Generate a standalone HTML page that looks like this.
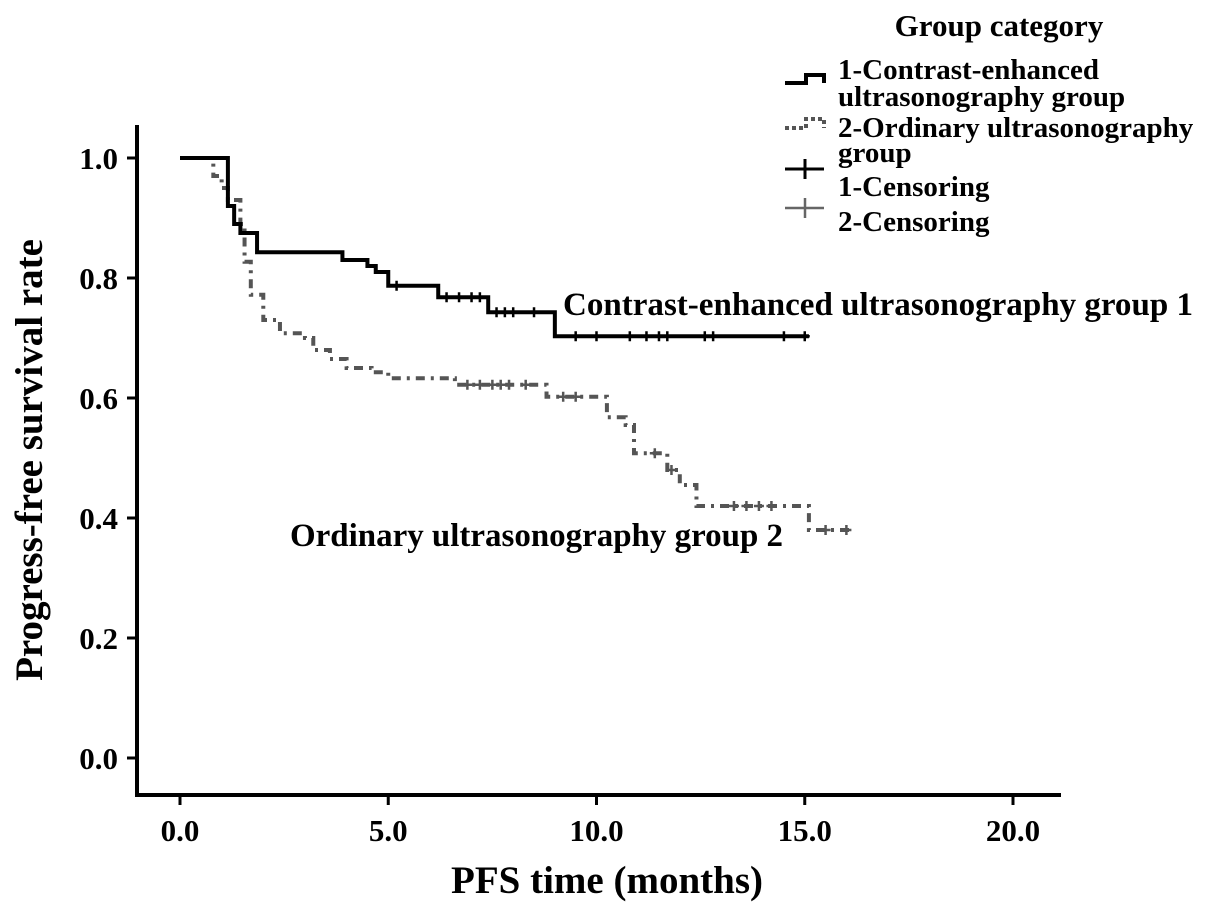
<!DOCTYPE html>
<html><head><meta charset="utf-8"><style>
html,body{margin:0;padding:0;background:#fff;}
svg{display:block;font-family:"Liberation Serif",serif;font-weight:bold;}
</style></head><body>
<svg id="chart" width="1205" height="911" viewBox="0 0 1205 911">
<g id="axes"></g>
<g id="series"></g>
<text x="563" y="315" font-size="32.5" textLength="630" lengthAdjust="spacingAndGlyphs">Contrast-enhanced ultrasonography group 1</text>
<text x="290" y="546" font-size="32.5" textLength="493" lengthAdjust="spacingAndGlyphs">Ordinary ultrasonography group 2</text>
<text x="607" y="893" font-size="39" text-anchor="middle">PFS time (months)</text>
<text transform="translate(42,460) rotate(-90)" font-size="39" text-anchor="middle">Progress-free survival rate</text>
<g font-size="29">
<text x="999" y="36" font-size="31" text-anchor="middle">Group category</text>
<path d="M785,83 H806 V75 H824 V83" fill="none" stroke="#000" stroke-width="4"/>
<text x="838" y="79">1-Contrast-enhanced</text>
<text x="838" y="106">ultrasonography group</text>
<path d="M785,128 H806 V119 H824 V128" fill="none" stroke="#555" stroke-width="4" stroke-dasharray="4,3"/>
<text x="838" y="137">2-Ordinary ultrasonography</text>
<text x="838" y="162">group</text>
<path d="M785,169 H824 M805,159 V179" stroke="#000" stroke-width="3"/>
<text x="838" y="196">1-Censoring</text>
<path d="M785,208 H824 M805,198 V218" stroke="#666" stroke-width="2.5"/>
<text x="838" y="231">2-Censoring</text>
</g>
</svg>
<script>
const xTicks=[0,5,10,15,20];
const xTickLabels=["0.0","5.0","10.0","15.0","20.0"];
const yTicks=[0,0.2,0.4,0.6,0.8,1.0];
const yTickLabels=["0.0","0.2","0.4","0.6","0.8","1.0"];
const g1Times=[0,1.15,1.3,1.45,1.85,3.9,4.5,4.7,5.0,6.2,7.4,9.0,15.1];
const g1Surv=[1.0,0.92,0.89,0.875,0.843,0.83,0.82,0.81,0.787,0.768,0.743,0.703,0.703];
const g1Censor=[5.2,6.4,6.7,7.0,7.2,7.6,7.8,8.0,8.5,9.5,10.0,10.8,11.2,11.5,11.7,12.6,12.8,14.5,15.0];
const g2Times=[0,0.8,1.0,1.15,1.45,1.55,1.7,2.0,2.4,3.0,3.2,3.6,4.0,4.6,5.0,6.6,8.8,10.25,10.7,10.9,11.7,12.0,12.4,15.1,16.1];
const g2Surv=[1.0,0.97,0.95,0.93,0.89,0.827,0.772,0.73,0.708,0.70,0.68,0.665,0.65,0.643,0.633,0.622,0.602,0.568,0.555,0.508,0.48,0.455,0.42,0.38,0.38];
const g2Censor=[6.9,7.2,7.5,7.7,7.9,8.3,9.2,9.5,11.4,11.8,13.3,13.6,13.9,14.2,15.5,16.0];
const NS="http://www.w3.org/2000/svg";
const X=t=>180+t*41.65;
const Y=s=>758-s*600;
function mk(tag,attrs,parent){const e=document.createElementNS(NS,tag);for(const k in attrs)e.setAttribute(k,attrs[k]);parent.appendChild(e);return e;}
const axes=document.getElementById('axes');
let e=mk('line',{x1:137,y1:125,x2:137,y2:797,stroke:'#000','stroke-width':4},axes);


e=mk('line',{x1:135,y1:795,x2:1061,y2:795,stroke:'#000','stroke-width':4},axes);


xTicks.forEach((t,i)=>{
  const l=mk('line',{x1:X(t),y1:795,x2:X(t),y2:805,stroke:'#000','stroke-width':3},axes);
  
  
  const tx=mk('text',{x:X(t),y:841,'font-size':31,'text-anchor':'middle'},axes);
  tx.textContent=xTickLabels[i];
  
  
});
yTicks.forEach((s,i)=>{
  const l=mk('line',{x1:127,y1:Y(s),x2:137,y2:Y(s),stroke:'#000','stroke-width':3},axes);
  
  
  const tx=mk('text',{x:118,y:Y(s)+11,'font-size':31,'text-anchor':'end'},axes);
  tx.textContent=yTickLabels[i];
  
  
});
const ser=document.getElementById('series');
function stepAt(times,surv,t){let s=surv[0];for(let i=0;i<times.length;i++){if(times[i]<=t)s=surv[i];}return s;}
function drawSeries(times,surv,censor,color,w,dash,name){
  let d='M'+X(times[0])+','+Y(surv[0]);
  for(let i=1;i<times.length;i++){d+=' H'+X(times[i])+' V'+Y(surv[i]);}
  const p=mk('path',{d:d,fill:'none',stroke:color,'stroke-width':w},ser);
  if(dash)p.setAttribute('stroke-dasharray',dash);
  
  
  censor.forEach(t=>{
    const y=Y(stepAt(times,surv,t));
    const c=mk('path',{d:'M'+(X(t)-5)+','+y+' H'+(X(t)+5)+' M'+X(t)+','+(y-5)+' V'+(y+5),stroke:color,'stroke-width':2.5},ser);
    
    
  });
}
drawSeries(g2Times,g2Surv,g2Censor,'#555',4,'9,6,3,6','group2');
drawSeries(g1Times,g1Surv,g1Censor,'#000',4,null,'group1');
</script>
</body></html>
